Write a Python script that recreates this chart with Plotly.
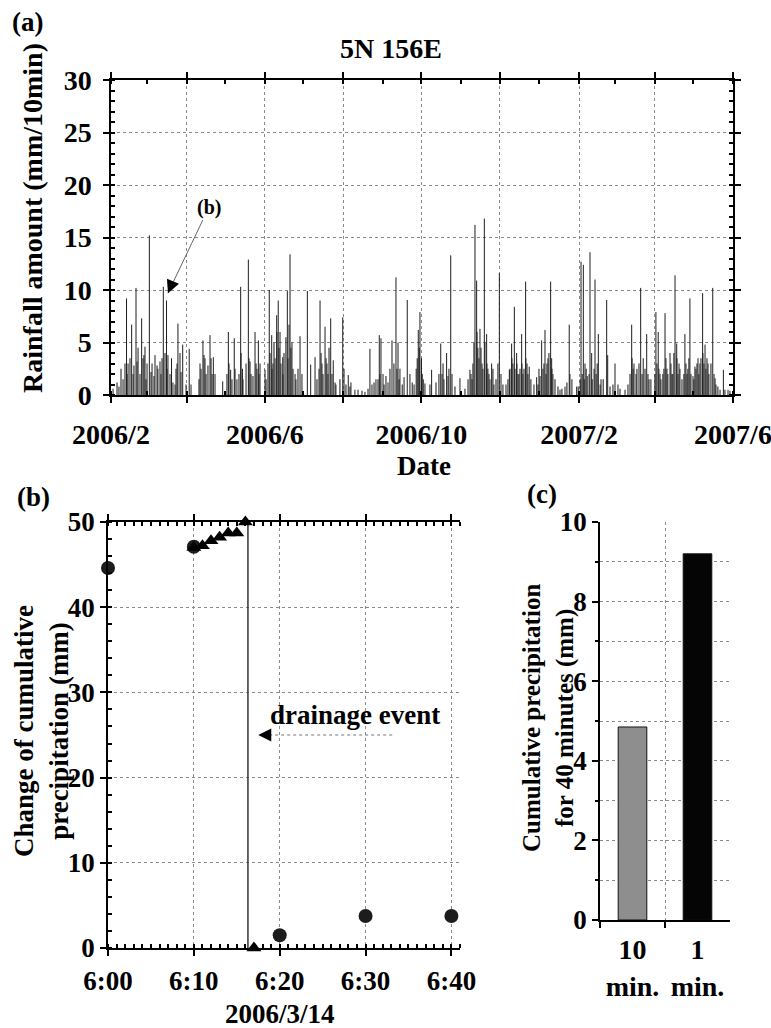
import plotly.graph_objects as go
import pandas as pd

# ---------------- Panel (a): 10-min rainfall at 5N 156E ----------------
rain_start = "2006-02-01"
# days after 2006-02-01 of the visible (taller) rain spikes
rain_days = [1.6, 12.1, 13.3, 16.1, 17.2, 19.5, 21.1, 23.9, 24.9, 26.5,
             28.1, 29.9, 32.0, 34.3, 36.6, 38.2, 40.8, 43.3, 44.4, 47.2,
             49.9, 52.2, 53.8, 55.9, 58.5, 61.0, 62.4, 69.4, 71.7, 73.3,
             77.2, 79.8, 81.1, 87.1, 91.5, 93.3, 96.1, 98.2, 101.1, 102.5,
             105.3, 107.1, 108.4, 112.3, 114.9, 116.2, 120.1, 123.4, 125.3, 126.3,
             129.2, 130.4, 131.8, 133.9, 137.5, 138.8, 139.6, 141.1, 143.5, 147.4,
             148.9, 153.1, 155.7, 159.1, 163.0, 164.5, 166.9, 168.4, 171.3, 173.3,
             175.4, 180.7, 181.7, 185.0, 187.1, 190.2, 198.0, 201.9, 203.5, 206.6,
             209.2, 210.5, 212.1, 216.0, 219.1, 222.2, 223.8, 225.3, 228.5, 231.0,
             233.1, 236.3, 239.6, 240.9, 242.1, 244.8, 250.0, 257.1, 258.1, 261.7,
             264.9, 265.9, 272.1, 279.9, 281.5, 283.8, 285.1, 286.1, 287.7, 289.3,
             291.1, 292.9, 293.9, 296.8, 298.6, 302.8, 304.1, 308.0, 310.6, 312.4,
             314.5, 316.3, 318.1, 320.2, 323.3, 324.4, 326.1, 329.8, 331.9, 333.7,
             335.8, 338.4, 339.9, 341.5, 342.8, 343.6, 344.6, 350.1, 354.0, 357.3,
             359.4, 363.1, 366.5, 368.3, 369.6, 373.5, 374.8, 377.4, 380.0, 382.1,
             386.5, 387.3, 393.0, 395.3, 400.8, 406.0, 407.8, 410.1, 413.0, 415.0,
             417.7, 418.7, 421.0, 424.9, 426.7, 428.1, 432.0, 433.5, 435.9, 437.4,
             439.8, 441.1, 442.9, 447.5, 449.1, 451.4, 453.8, 455.3, 457.7, 461.3,
             463.2, 465.5, 469.2, 470.2, 471.0, 474.9, 477.5, 481.1]
rain_mm = [0.6, 9.2, 3.0, 6.7, 2.0, 10.2, 4.5, 7.3, 3.5, 4.6,
           3.0, 15.2, 3.0, 3.8, 2.5, 3.2, 10.3, 9.0, 3.8, 3.5,
           1.0, 6.8, 4.0, 4.8, 1.0, 4.4, 1.0, 3.0, 5.2, 3.5,
           5.7, 3.6, 2.0, 1.3, 6.0, 2.4, 5.4, 1.5, 10.3, 2.5,
           3.0, 12.9, 3.2, 6.0, 5.2, 3.0, 2.4, 10.0, 5.7, 3.0,
           7.6, 9.0, 6.0, 3.6, 9.9, 6.7, 13.4, 5.0, 2.0, 5.6,
           2.0, 9.9, 2.9, 3.6, 9.0, 3.0, 6.5, 3.0, 7.3, 3.3,
           1.0, 7.4, 2.5, 1.9, 1.2, 0.5, 0.3, 4.4, 1.0, 1.5,
           5.7, 5.4, 2.0, 1.2, 5.2, 11.2, 5.0, 2.5, 1.7, 9.05,
           2.0, 1.0, 6.2, 7.9, 3.5, 1.1, 2.4, 4.9, 2.0, 4.0,
           13.3, 2.0, 1.6, 2.4, 1.5, 16.2, 10.9, 4.5, 6.3, 3.0,
           16.8, 5.8, 2.5, 3.0, 1.0, 11.6, 2.0, 1.0, 2.4, 4.9,
           8.4, 4.0, 2.0, 5.8, 10.8, 3.0, 2.7, 1.0, 1.7, 2.5,
           5.2, 6.2, 3.0, 4.0, 10.8, 3.5, 2.0, 0.5, 0.8, 6.7,
           1.5, 0.8, 12.7, 12.4, 3.0, 13.6, 4.0, 11.0, 5.8, 1.5,
           9.05, 3.8, 3.0, 1.0, 0.5, 6.7, 3.0, 2.5, 10.2, 3.5,
           5.8, 2.0, 1.5, 7.9, 6.0, 2.0, 7.8, 2.5, 4.0, 2.0,
           11.4, 4.9, 3.0, 5.8, 2.0, 9.2, 1.8, 2.7, 3.5, 9.7,
           4.8, 3.0, 10.2, 2.0, 1.6, 0.5, 2.4, 0.5]
# the dense low-intensity rain underneath (days after 2006-02-01, mm/10min)
rain_days_low = [4.7, 6.2, 7.8, 9.4, 10.9, 12.5, 14.8, 17.9, 20.3, 22.6, 25.7, 27.3,
                 31.2, 33.5, 35.9, 39.0, 39.8, 42.1, 43.7, 46.0, 48.3, 50.7, 51.5, 54.6,
                 68.6, 70.2, 72.5, 74.1, 75.6, 78.0, 78.8,
                 90.4, 92.0, 94.3, 96.7, 99.8, 101.4, 102.9, 107.6, 109.2, 110.7, 113.1, 113.8, 115.4,
                 120.9, 122.4, 124.0, 125.5, 127.1, 127.9, 129.4, 131.0, 132.5, 134.1, 134.9,
                 136.4, 138.0, 140.3, 141.9, 144.2, 145.8,
                 160.6, 162.2, 163.8, 165.3, 167.7, 169.2, 170.0, 172.3, 174.7,
                 178.5, 183.2, 186.3, 192.6, 195.7, 200.4, 205.1,
                 208.2, 209.7, 212.9, 214.4, 217.5, 220.6, 223.0, 224.6, 227.1, 234.9, 238.0,
                 238.8, 240.4, 242.7, 243.5,
                 248.7, 253.4, 255.7, 258.9, 259.6, 262.8, 263.5, 268.2, 276.0,
                 278.4, 280.7, 282.2, 283.0, 285.4, 286.9, 288.5, 290.0, 291.6, 293.1, 294.7,
                 295.5, 297.8, 300.2, 301.7,
                 305.6, 309.5, 311.1, 312.6, 313.4, 315.0, 316.5, 317.3, 318.9, 320.4, 321.2,
                 322.0, 323.5, 325.1, 327.4,
                 332.9, 334.5, 336.8, 337.6, 339.2, 340.7, 343.8, 346.2, 348.5, 351.6, 355.5, 357.8,
                 364.3, 365.9, 367.4, 369.0, 370.5, 371.3, 372.8, 375.2, 376.7, 378.3, 379.1,
                 381.4, 383.8,
                 389.1, 391.4, 396.9, 403.1, 404.7, 406.3, 407.1, 409.4, 411.7, 414.1, 416.4, 419.5,
                 424.1, 425.7, 427.2, 428.8, 430.3, 431.1, 432.7, 434.2, 436.6, 438.1, 438.9,
                 441.3, 442.1, 443.6, 445.2, 446.7, 448.3, 449.8, 450.6,
                 452.2, 454.5, 456.1, 456.9, 458.4, 459.2, 460.0, 461.5, 462.3, 463.9, 464.7,
                 466.2, 467.8, 471.7, 473.2, 478.7, 482.6]
rain_mm_low = [1.2, 0.8, 2.5, 1.5, 3.0, 2.0, 3.5, 2.8, 3.2, 2.0, 3.8, 1.5,
               2.2, 1.8, 2.8, 2.0, 3.5, 4.0, 2.5, 2.0, 1.2, 2.5, 3.0, 2.2,
               1.5, 2.5, 3.8, 2.0, 2.8, 3.5, 2.0,
               2.0, 3.0, 1.5, 2.5, 2.0, 4.0, 1.5, 3.5, 2.0, 1.8, 3.0, 2.5, 2.0,
               1.5, 3.0, 4.0, 2.5, 5.0, 3.5, 6.0, 4.5, 3.0, 2.0, 4.0,
               5.5, 3.5, 4.5, 2.5, 1.5, 2.5,
               1.5, 2.5, 4.0, 2.0, 3.5, 2.0, 4.5, 2.0, 1.2,
               1.5, 1.0, 0.8, 0.5, 0.4, 0.6, 1.2,
               1.5, 2.0, 1.0, 1.8, 2.5, 3.0, 2.5, 1.5, 1.0, 1.2, 2.5,
               3.5, 4.5, 2.0, 1.5,
               1.0, 1.2, 2.0, 3.0, 1.5, 1.8, 2.5, 0.8, 0.6,
               1.5, 2.0, 3.0, 5.0, 6.0, 3.5, 4.5, 2.5, 5.0, 3.0, 2.0,
               1.5, 2.5, 1.5, 3.0,
               1.0, 1.5, 2.5, 3.5, 3.0, 2.5, 3.0, 2.0, 2.5, 3.0, 2.0,
               2.5, 3.5, 2.0, 1.5,
               1.0, 1.8, 2.5, 3.0, 2.0, 3.5, 2.5, 1.5, 0.8, 0.6, 1.2, 2.0,
               0.8, 1.5, 2.0, 1.5, 2.5, 1.8, 2.0, 1.5, 2.5, 2.0, 3.0,
               1.0, 1.5,
               0.8, 1.0, 0.6, 1.0, 2.0, 3.5, 2.5, 2.0, 3.0, 2.0, 2.5, 1.5,
               2.0, 3.0, 2.5, 1.5, 2.0, 2.5, 3.5, 2.0, 3.0, 2.0, 4.0,
               3.5, 2.0, 2.5, 1.5, 2.0, 3.0, 2.5, 3.5,
               2.0, 1.5, 2.5, 3.0, 2.0, 3.0, 3.5, 4.0, 3.0, 2.5, 3.5,
               2.0, 3.0, 1.0, 0.8, 0.5, 0.4]
a_tickvals = ["2006-02-01", "2006-04-01", "2006-06-01", "2006-08-01", "2006-10-01",
              "2006-12-01", "2007-02-01", "2007-04-01", "2007-06-01"]
a_ticktext = ["2006/2", "", "2006/6", "", "2006/10", "", "2007/2", "", "2007/6"]

# ---------------- Panel (b): 2006/3/14 event ----------------
b_date = "2006-03-14"
circle_times = ["06:00", "06:10", "06:20", "06:30", "06:40"]   # 10-min data
circle_mm = [44.6, 47.1, 1.5, 3.75, 3.75]
tri_times = ["06:10", "06:11", "06:12", "06:13", "06:14", "06:15", "06:16", "06:17"]  # 1-min data
tri_mm = [47.0, 47.2, 47.8, 48.2, 48.7, 48.7, 50.0, 0.0]
drain_time = "06:16:18"
drain_mm = [50.0, 0.0]
b_tick_times = ["06:00", "06:10", "06:20", "06:30", "06:40"]
b_ticktext = ["6:00", "6:10", "6:20", "6:30", "6:40"]

# ---------------- Panel (c): cumulative precipitation for 40 min ----------------
c_categories = ["10<br>min.", "1<br>min."]
c_values = [4.85, 9.2]
c_colors = ["#8e8e8e", "#050505"]

FONT = "Liberation Serif"
W, H = 771, 1028


def px(x):
    return x / W


def py(y):
    return 1 - y / H


def spikes(days, vals):
    dates = pd.Timestamp(rain_start) + pd.to_timedelta(days, unit="D")
    xs, ys = [], []
    for d, v in zip(dates, vals):
        xs += [d, d, None]
        ys += [0, v, None]
    return xs, ys


fig = go.Figure()
lx, ly = spikes(rain_days_low, rain_mm_low)
fig.add_trace(go.Scatter(x=lx, y=ly, mode="lines", xaxis="x", yaxis="y",
                         line=dict(color="#3a3a3a", width=1.2), hoverinfo="skip"))
sx, sy = spikes(rain_days, rain_mm)
fig.add_trace(go.Scatter(x=sx, y=sy, mode="lines", xaxis="x", yaxis="y",
                         line=dict(color="#1e1e1e", width=1), hoverinfo="skip"))

ts = lambda t: f"{b_date} {t}"
fig.add_trace(go.Scatter(x=[ts(drain_time)] * 2, y=drain_mm, mode="lines",
                         xaxis="x2", yaxis="y2", line=dict(color="#333", width=1.5)))
fig.add_trace(go.Scatter(x=[ts(t) for t in circle_times], y=circle_mm, mode="markers",
                         xaxis="x2", yaxis="y2", cliponaxis=False,
                         marker=dict(symbol="circle", size=14, color="#1c1c1c")))
fig.add_trace(go.Scatter(x=[ts(t) for t in tri_times], y=tri_mm, mode="markers",
                         xaxis="x2", yaxis="y2", cliponaxis=False,
                         marker=dict(symbol="triangle-up", size=13, color="#000")))

fig.add_trace(go.Bar(x=c_categories, y=c_values, xaxis="x3", yaxis="y3", width=0.44,
                     marker=dict(color=c_colors, line=dict(color="#111", width=1))))


def tf(size):
    return dict(family=FONT, size=size, color="black", weight="bold")


common = dict(showline=True, linecolor="black", linewidth=1.5, ticks="outside",
              ticklen=6, tickwidth=1.5, tickcolor="black", showgrid=True,
              gridcolor="#8a8a8a", griddash="dot", gridwidth=1, zeroline=False,
              automargin=False, ticklabeloverflow="allow")

fig.update_layout(
    width=W, height=H, margin=dict(l=0, r=0, t=0, b=0, autoexpand=False),
    paper_bgcolor="white", plot_bgcolor="white", showlegend=False,
    font=dict(family=FONT, size=26, color="black", weight="bold"),
    xaxis=dict(**common, type="date", domain=[px(111), px(733)], anchor="y",
               range=["2006-02-01", "2007-06-01"], tickmode="array",
               tickvals=a_tickvals, ticktext=a_ticktext, mirror="allticks",
               ticklabelstandoff=8, tickfont=tf(28),
               minor=dict(tick0="2006-02-01", dtick="M1", ticks="inside", ticklen=4,
                          tickcolor="black", showgrid=False)),
    yaxis=dict(**common, domain=[py(395), py(80)], anchor="x", range=[0, 30],
               dtick=5, mirror="allticks", ticklabelstandoff=6, tickfont=tf(28),
               minor=dict(dtick=1, ticks="inside", ticklen=4, tickcolor="black",
                          showgrid=False)),
    xaxis2=dict(**common, type="date", domain=[px(108), px(460)], anchor="y2",
                range=[ts("06:00"), ts("06:41")], tickmode="array",
                tickvals=[ts(t) for t in b_tick_times], ticktext=b_ticktext,
                mirror="allticks", ticklabelstandoff=2, tickfont=tf(27),
                minor=dict(tick0=ts("06:00"), dtick=60000, ticks="inside", ticklen=4,
                           tickcolor="black", showgrid=False)),
    yaxis2=dict(**common, domain=[py(948), py(522)], anchor="x2", range=[0, 50],
                dtick=10, ticklabelstandoff=0, tickfont=tf(27),
                minor=dict(dtick=2, ticks="inside", ticklen=4, tickcolor="black",
                           showgrid=False)),
    xaxis3=dict(**common, type="category", domain=[px(600), px(730)], anchor="y3",
                tickson="boundaries", tickangle=0, ticklabelstandoff=4, tickfont=tf(28)),
    yaxis3=dict(**common, domain=[py(920), py(522)], anchor="x3", range=[0, 10],
                dtick=2, ticklabelstandoff=0, tickfont=tf(27),
                minor=dict(dtick=1, ticks="outside", ticklen=3, tickcolor="black",
                           showgrid=True, gridcolor="#8a8a8a", griddash="dot")),
)

ann = [
    dict(text="(a)", x=px(27), y=py(22), font=tf(27)),
    dict(text="5N 156E", x=px(391), y=py(48), font=tf(28)),
    dict(text="Rainfall amount (mm/10min)", x=px(32), y=py(218), textangle=-90, font=tf(28)),
    dict(text="Date", x=px(424), y=py(466), font=tf(27)),
    dict(text="(b)", x=px(33), y=py(497), font=tf(27)),
    dict(text="Change of cumulative<br>precipitation (mm)", x=px(41), y=py(731),
         textangle=-90, font=tf(27)),
    dict(text="2006/3/14", x=px(280), y=py(1014), font=tf(27)),
    dict(text="drainage event", x=px(355), y=py(715), font=tf(27)),
    dict(text="(c)", x=px(542), y=py(494), font=tf(27)),
    dict(text="Cumulative precipitation<br>for 40 minutes (mm)", x=px(548), y=py(718),
         textangle=-90, font=tf(25)),
]
for a in ann:
    a.update(xref="paper", yref="paper", showarrow=False, xanchor="center", yanchor="middle")
    fig.add_annotation(**a)

# "(b)" pointer in panel (a)
tip_date, tip_val = "2006-03-17 10:00", 9.7
fig.add_annotation(x=tip_date, y=tip_val, xref="x", yref="y", text="(b)",
                   font=tf(20), showarrow=True, arrowhead=0, arrowwidth=1,
                   arrowcolor="#666", ax=41, ay=-86)
fig.add_annotation(x=tip_date, y=tip_val, xref="x", yref="y", text="",
                   showarrow=True, arrowhead=2, arrowsize=1.3, arrowwidth=2,
                   arrowcolor="black", ax=5, ay=-12)

# drainage event arrow in panel (b)
fig.add_shape(type="line", xref="x2", yref="y2", x0=ts("06:33:06"), x1=ts("06:18:30"),
              y0=25, y1=25, line=dict(color="#777", width=1.2, dash="dot"))
fig.add_annotation(x=ts("06:17:30"), y=25, xref="x2", yref="y2", text="",
                   showarrow=True, arrowhead=2, arrowsize=1.3, arrowwidth=2,
                   arrowcolor="black", ax=14, ay=0)

fig.write_html("out.html", config={"displayModeBar": False},
               post_script="document.body.style.margin='0';document.body.style.overflow='hidden';")
